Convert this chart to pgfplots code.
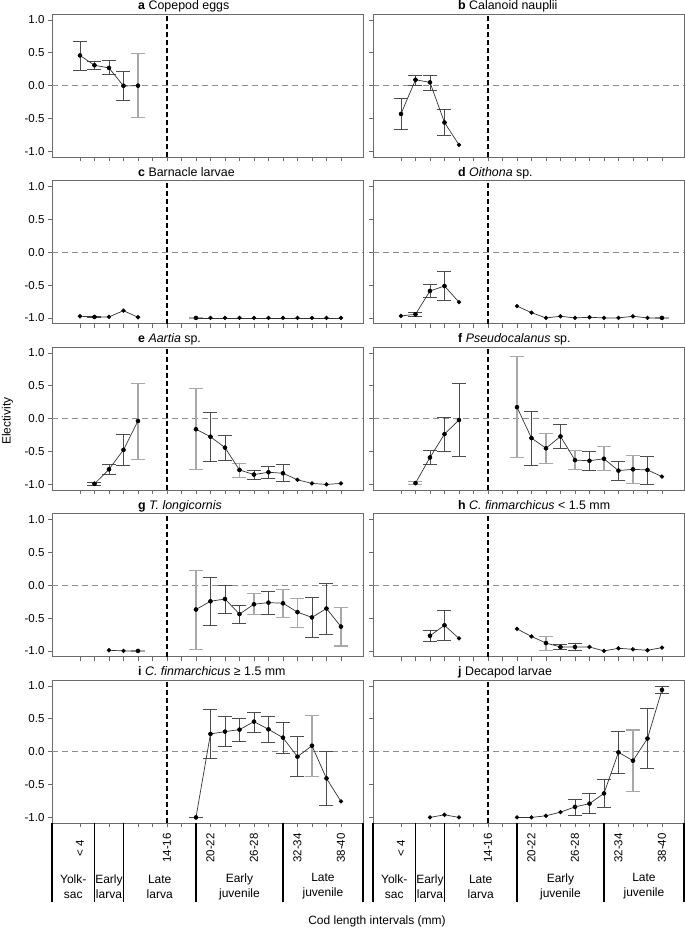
\documentclass[border=0pt]{standalone}
\usepackage{fontspec}
\setmainfont{Liberation Sans}
\usepackage{pgfplots}
\pgfplotsset{compat=1.18}

\definecolor{dk}{gray}{0.3}
\definecolor{lt}{gray}{0.66}
\definecolor{frm}{gray}{0.42}

\newcommand{\tk}{\fontsize{11.5}{13}\selectfont}
\newcommand{\ttl}{\fontsize{12.4}{14}\selectfont}
\newcommand{\lab}{\fontsize{12}{14}\selectfont}
\newcommand{\stg}{\fontsize{12}{15}\selectfont}

\pgfplotsset{
 panel/.style={scale only axis, width=311pt, height=143pt, anchor=north west,
   xmin=-1.93, xmax=19.52, ymin=-1.085, ymax=1.09,
   xtick={0,...,18}, xticklabels={},
   ytick={-1,-0.5,0,0.5,1},
   tick align=outside, tick pos=left, major tick length=4pt,
   axis line style={frm, line width=0.8pt},
   every tick/.append style={frm, line width=0.7pt},
   clip=false,
   extra x ticks={6}, extra x tick labels={},
   extra x tick style={grid=major, major grid style={black, line width=1.5pt, dash pattern=on 5pt off 3pt}},
   extra y ticks={0}, extra y tick labels={},
   extra y tick style={grid=major, major grid style={black!45, line width=0.9pt, dash pattern=on 6pt off 4pt}},
   tick label style={font=\tk},
 },
 leftp/.style={panel, yticklabels={-1.0,-0.5,0.0,0.5,1.0}},
 rightp/.style={panel, yticklabels={}},
 dat/.style={black!80, line width=0.7pt, mark=*, mark size=1.8pt, mark options={fill=black, draw=black, solid}},
 ebd/.style={only marks, mark=none, forget plot, error bars/.cd, y dir=both, y explicit,
   error bar style={dk, line width=0.9pt}, error mark options={rotate=90, mark size=7pt, dk, line width=0.9pt}},
 ebl/.style={only marks, mark=none, forget plot, error bars/.cd, y dir=both, y explicit,
   error bar style={lt, line width=1.1pt}, error mark options={rotate=90, mark size=7pt, lt, line width=1.1pt}},
}

\begin{document}
\begin{tikzpicture}
\path[use as bounding box] (0,0) rectangle (685pt,-929pt);

% ---------- a ----------
\begin{axis}[leftp, at={(52pt,-14pt)}]
\addplot[ebd] coordinates {(0,0.46) += (0,0.22) -= (0,0.23) (1,0.31) += (0,0.06) -= (0,0.065) (2,0.27) += (0,0.11) -= (0,0.10) (3,0.0) += (0,0.22) -= (0,0.23)};
\addplot[ebl] coordinates {(4,0.0) += (0,0.49) -= (0,0.485)};
\addplot[dat] coordinates {(0,0.46) (1,0.31) (2,0.27) (3,-0.005) (4,0.0)};
\end{axis}
% ---------- b ----------
\begin{axis}[rightp, at={(373pt,-14pt)}]
\addplot[ebd] coordinates {(0,-0.43) += (0,0.24) -= (0,0.23) (1,0.09) += (0,0.07) -= (0,0.08) (2,0.05) += (0,0.10) -= (0,0.12) (3,-0.56) += (0,0.20) -= (0,0.195)};
\addplot[dat] coordinates {(0,-0.43) (1,0.09) (2,0.05) (3,-0.56) (4,-0.9)};
\end{axis}
% ---------- c ----------
\begin{axis}[leftp, at={(52pt,-180.5pt)}]
\addplot[ebd] coordinates {(1,-0.985) += (0,0.01) -= (0,0.01)};
\addplot[ebl] coordinates {(8,-1.0) += (0,0.005) -= (0,0.005)};
\addplot[dat] coordinates {(0,-0.975) (1,-0.985) (2,-0.985) (3,-0.89) (4,-0.99)};
\addplot[dat] coordinates {(8,-1.0) (9,-1.0) (10,-1.0) (11,-1.0) (12,-1.0) (13,-1.0) (14,-1.0) (15,-1.0) (16,-1.0) (17,-1.0) (18,-1.0)};
\end{axis}
% ---------- d ----------
\begin{axis}[rightp, at={(373pt,-180.5pt)}]
\addplot[ebd] coordinates {(1,-0.945) += (0,0.025) -= (0,0.03) (2,-0.59) += (0,0.10) -= (0,0.10) (3,-0.515) += (0,0.215) -= (0,0.215)};
\addplot[ebl] coordinates {(18,-1.0) += (0,0.005) -= (0,0.005)};
\addplot[dat] coordinates {(0,-0.97) (1,-0.945) (2,-0.59) (3,-0.515) (4,-0.76)};
\addplot[dat] coordinates {(8,-0.82) (9,-0.92) (10,-1.0) (11,-0.975) (12,-1.0) (13,-0.99) (14,-1.0) (15,-1.0) (16,-0.975) (17,-1.0) (18,-1.0)};
\end{axis}
% ---------- e ----------
\begin{axis}[leftp, at={(52pt,-347pt)}]
\addplot[ebd] coordinates {(1,-0.99) += (0,0.025) -= (0,0.02) (2,-0.77) += (0,0.07) -= (0,0.08) (3,-0.475) += (0,0.235) -= (0,0.235) (9,-0.275) += (0,0.37) -= (0,0.375) (10,-0.44) += (0,0.185) -= (0,0.19) (12,-0.85) += (0,0.07) -= (0,0.08) (13,-0.815) += (0,0.095) -= (0,0.095) (14,-0.83) += (0,0.13) -= (0,0.125)};
\addplot[ebl] coordinates {(4,-0.035) += (0,0.575) -= (0,0.585) (8,-0.16) += (0,0.615) -= (0,0.61) (11,-0.78) += (0,0.10) -= (0,0.11)};
\addplot[dat] coordinates {(1,-0.99) (2,-0.77) (3,-0.475) (4,-0.035)};
\addplot[dat] coordinates {(8,-0.16) (9,-0.275) (10,-0.44) (11,-0.78) (12,-0.85) (13,-0.815) (14,-0.83) (15,-0.93) (16,-0.985) (17,-1.0) (18,-0.985)};
\end{axis}
% ---------- f ----------
\begin{axis}[rightp, at={(373pt,-347pt)}]
\addplot[ebl] coordinates {(1,-0.98) += (0,0.02) -= (0,0.02) (8,0.175) += (0,0.765) -= (0,0.765) (10,-0.45) += (0,0.23) -= (0,0.23) (12,-0.63) += (0,0.15) -= (0,0.145) (14,-0.61) += (0,0.18) -= (0,0.18) (16,-0.77) += (0,0.21) -= (0,0.22)};
\addplot[ebd] coordinates {(2,-0.59) += (0,0.11) -= (0,0.11) (3,-0.235) += (0,0.255) -= (0,0.265) (4,-0.02) += (0,0.56) -= (0,0.555) (9,-0.295) += (0,0.40) -= (0,0.415) (11,-0.27) += (0,0.18) -= (0,0.18) (13,-0.64) += (0,0.145) -= (0,0.155) (15,-0.79) += (0,0.14) -= (0,0.15) (17,-0.78) += (0,0.21) -= (0,0.22)};
\addplot[dat] coordinates {(1,-0.98) (2,-0.59) (3,-0.235) (4,-0.02)};
\addplot[dat] coordinates {(8,0.175) (9,-0.295) (10,-0.45) (11,-0.27) (12,-0.63) (13,-0.64) (14,-0.61) (15,-0.79) (16,-0.77) (17,-0.78) (18,-0.88)};
\end{axis}
% ---------- g ----------
\begin{axis}[leftp, at={(52pt,-513.5pt)}]
\addplot[ebl] coordinates {(4,-1.0) += (0,0.005) -= (0,0.005) (8,-0.37) += (0,0.59) -= (0,0.605) (12,-0.29) += (0,0.16) -= (0,0.16) (14,-0.275) += (0,0.21) -= (0,0.215) (15,-0.41) += (0,0.21) -= (0,0.23) (18,-0.63) += (0,0.295) -= (0,0.295)};
\addplot[ebd] coordinates {(9,-0.245) += (0,0.365) -= (0,0.365) (10,-0.21) += (0,0.21) -= (0,0.215) (11,-0.44) += (0,0.13) -= (0,0.14) (13,-0.265) += (0,0.175) -= (0,0.175) (16,-0.49) += (0,0.30) -= (0,0.30) (17,-0.355) += (0,0.375) -= (0,0.395)};
\addplot[dat] coordinates {(2,-0.99) (3,-1.0) (4,-1.0)};
\addplot[dat] coordinates {(8,-0.37) (9,-0.245) (10,-0.21) (11,-0.44) (12,-0.29) (13,-0.265) (14,-0.275) (15,-0.41) (16,-0.49) (17,-0.355) (18,-0.63)};
\end{axis}
% ---------- h ----------
\begin{axis}[rightp, at={(373pt,-513.5pt)}]
\addplot[ebd] coordinates {(2,-0.77) += (0,0.08) -= (0,0.09) (3,-0.61) += (0,0.22) -= (0,0.23) (11,-0.94) += (0,0.04) -= (0,0.045) (12,-0.94) += (0,0.05) -= (0,0.06)};
\addplot[ebl] coordinates {(10,-0.88) += (0,0.10) -= (0,0.11)};
\addplot[dat] coordinates {(2,-0.77) (3,-0.61) (4,-0.81)};
\addplot[dat] coordinates {(8,-0.665) (9,-0.78) (10,-0.88) (11,-0.94) (12,-0.94) (13,-0.94) (14,-1.0) (15,-0.96) (16,-0.975) (17,-0.99) (18,-0.95)};
\end{axis}
% ---------- i ----------
\begin{axis}[leftp, at={(52pt,-680pt)}]
\addplot[ebd] coordinates {(8,-1.0) += (0,0.005) -= (0,0.005) (9,0.27) += (0,0.37) -= (0,0.38) (10,0.305) += (0,0.225) -= (0,0.23) (11,0.335) += (0,0.175) -= (0,0.18) (12,0.457) += (0,0.143) -= (0,0.163) (13,0.34) += (0,0.20) -= (0,0.203) (14,0.213) += (0,0.237) -= (0,0.238) (15,-0.076) += (0,0.30) -= (0,0.30) (17,-0.406) += (0,0.411) -= (0,0.411)};
\addplot[ebl] coordinates {(16,0.09) += (0,0.463) -= (0,0.466)};
\addplot[dat] coordinates {(8,-1.0) (9,0.27) (10,0.305) (11,0.335) (12,0.457) (13,0.34) (14,0.213) (15,-0.076) (16,0.09) (17,-0.406) (18,-0.756)};
\draw[black, line width=1.3pt] (axis cs:-1.93,-1.085) -- (axis cs:-1.93,-2.28);
\draw[black, line width=1.3pt] (axis cs:1,-1.085) -- (axis cs:1,-2.28);
\draw[black, line width=1.3pt] (axis cs:3,-1.085) -- (axis cs:3,-2.28);
\draw[black, line width=1.3pt] (axis cs:8,-1.085) -- (axis cs:8,-2.28);
\draw[black, line width=1.3pt] (axis cs:14,-1.085) -- (axis cs:14,-2.28);
\draw[black, line width=1.3pt] (axis cs:19.52,-1.085) -- (axis cs:19.52,-2.28);
\node[rotate=90, font=\tk] at (axis cs:0,-1.465) {< 4};
\node[rotate=90, font=\tk] at (axis cs:6,-1.465) {14-16};
\node[rotate=90, font=\tk] at (axis cs:9,-1.465) {20-22};
\node[rotate=90, font=\tk] at (axis cs:12,-1.465) {26-28};
\node[rotate=90, font=\tk] at (axis cs:15,-1.465) {32-34};
\node[rotate=90, font=\tk] at (axis cs:18,-1.465) {38-40};
\node[align=center, font=\stg] at (axis cs:-0.465,-2.05) {Yolk-\\sac};
\node[align=center, font=\stg] at (axis cs:2,-2.05) {Early\\larva};
\node[align=center, font=\stg] at (axis cs:5.5,-2.05) {Late\\larva};
\node[align=center, font=\stg] at (axis cs:11,-2.05) {Early\\juvenile};
\node[align=center, font=\stg] at (axis cs:16.76,-2.05) {Late\\juvenile};
\end{axis}
% ---------- j ----------
\begin{axis}[rightp, at={(373pt,-680pt)}]
\addplot[ebd] coordinates {(12,-0.84) += (0,0.12) -= (0,0.125) (13,-0.79) += (0,0.15) -= (0,0.15) (14,-0.635) += (0,0.22) -= (0,0.215) (15,-0.01) += (0,0.315) -= (0,0.32) (17,0.2) += (0,0.45) -= (0,0.45) (18,0.94) += (0,0.05) -= (0,0.05)};
\addplot[ebl] coordinates {(16,-0.137) += (0,0.467) -= (0,0.463)};
\addplot[dat] coordinates {(2,-1.0) (3,-0.96) (4,-1.0)};
\addplot[dat] coordinates {(8,-1.0) (9,-1.0) (10,-0.975) (11,-0.92) (12,-0.84) (13,-0.79) (14,-0.635) (15,-0.01) (16,-0.137) (17,0.2) (18,0.94)};
\draw[black, line width=1.3pt] (axis cs:-1.93,-1.085) -- (axis cs:-1.93,-2.28);
\draw[black, line width=1.3pt] (axis cs:1,-1.085) -- (axis cs:1,-2.28);
\draw[black, line width=1.3pt] (axis cs:3,-1.085) -- (axis cs:3,-2.28);
\draw[black, line width=1.3pt] (axis cs:8,-1.085) -- (axis cs:8,-2.28);
\draw[black, line width=1.3pt] (axis cs:14,-1.085) -- (axis cs:14,-2.28);
\draw[black, line width=1.3pt] (axis cs:19.52,-1.085) -- (axis cs:19.52,-2.28);
\node[rotate=90, font=\tk] at (axis cs:0,-1.465) {< 4};
\node[rotate=90, font=\tk] at (axis cs:6,-1.465) {14-16};
\node[rotate=90, font=\tk] at (axis cs:9,-1.465) {20-22};
\node[rotate=90, font=\tk] at (axis cs:12,-1.465) {26-28};
\node[rotate=90, font=\tk] at (axis cs:15,-1.465) {32-34};
\node[rotate=90, font=\tk] at (axis cs:18,-1.465) {38-40};
\node[align=center, font=\stg] at (axis cs:-0.465,-2.05) {Yolk-\\sac};
\node[align=center, font=\stg] at (axis cs:2,-2.05) {Early\\larva};
\node[align=center, font=\stg] at (axis cs:5.5,-2.05) {Late\\larva};
\node[align=center, font=\stg] at (axis cs:11,-2.05) {Early\\juvenile};
\node[align=center, font=\stg] at (axis cs:16.76,-2.05) {Late\\juvenile};
\end{axis}

% ---------- titles ----------
\node[anchor=base west, font=\ttl, inner sep=0pt] at (138pt,-9.5pt) {\textbf{a} Copepod eggs};
\node[anchor=base west, font=\ttl, inner sep=0pt] at (458pt,-9.5pt) {\textbf{b} Calanoid nauplii};
\node[anchor=base west, font=\ttl, inner sep=0pt] at (138pt,-176pt) {\textbf{c} Barnacle larvae};
\node[anchor=base west, font=\ttl, inner sep=0pt] at (458pt,-176pt) {\textbf{d} \textit{Oithona} sp.};
\node[anchor=base west, font=\ttl, inner sep=0pt] at (138pt,-342.5pt) {\textbf{e} \textit{Aartia} sp.};
\node[anchor=base west, font=\ttl, inner sep=0pt] at (458pt,-342.5pt) {\textbf{f} \textit{Pseudocalanus} sp.};
\node[anchor=base west, font=\ttl, inner sep=0pt] at (138pt,-509pt) {\textbf{g} \textit{T. longicornis}};
\node[anchor=base west, font=\ttl, inner sep=0pt] at (458pt,-509pt) {\textbf{h} \textit{C. finmarchicus} < 1.5 mm};
\node[anchor=base west, font=\ttl, inner sep=0pt] at (138pt,-675.5pt) {\textbf{i} \textit{C. finmarchicus} ≥ 1.5 mm};
\node[anchor=base west, font=\ttl, inner sep=0pt] at (458pt,-675.5pt) {\textbf{j} Decapod larvae};

\node[rotate=90, font=\lab] at (7.5pt,-421pt) {Electivity};
\node[anchor=base, font=\lab, inner sep=0pt] at (377pt,-924pt) {Cod length intervals (mm)};
\end{tikzpicture}
\end{document}
